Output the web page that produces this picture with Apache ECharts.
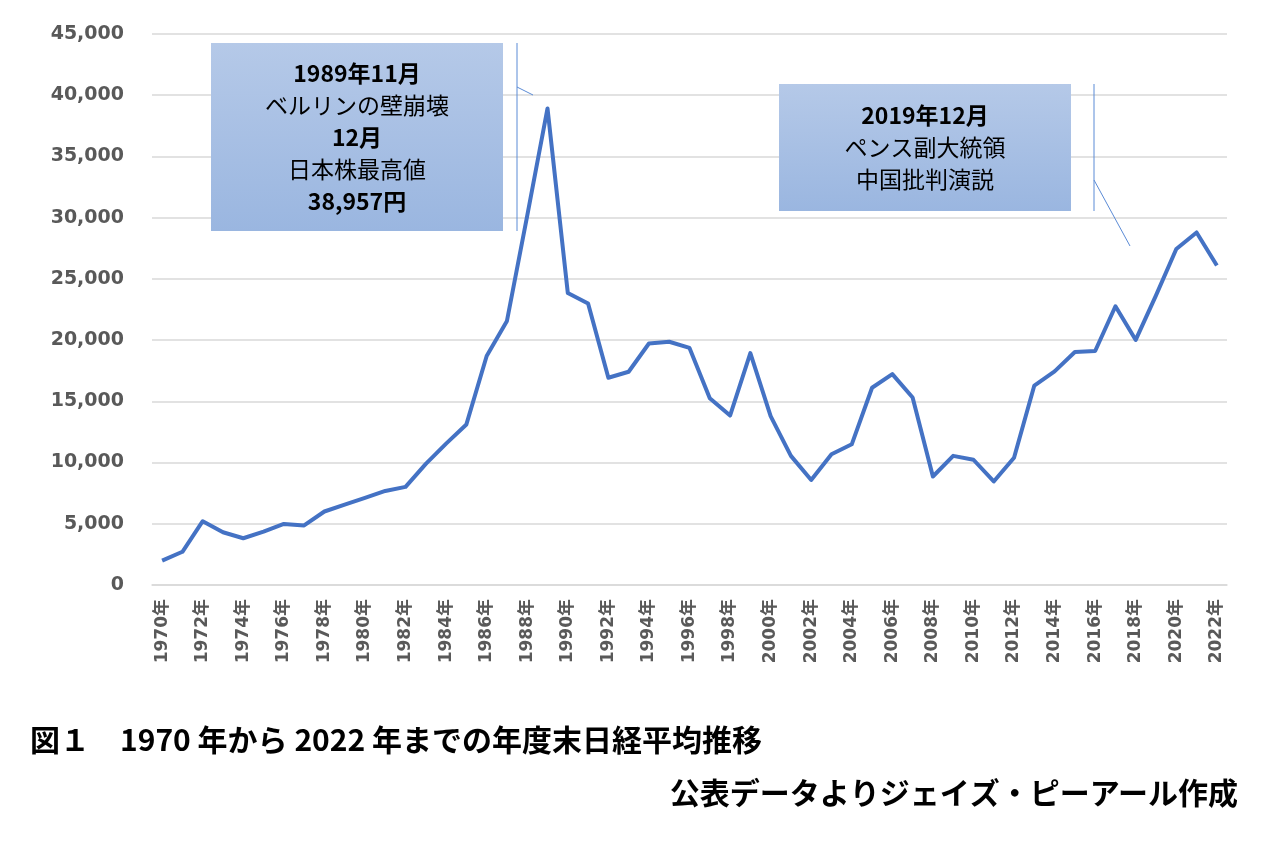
<!DOCTYPE html>
<html>
<head>
<meta charset="utf-8">
<script src="https://cdn.jsdelivr.net/npm/echarts@6/dist/echarts.min.js"></script>
<style>
  html, body { margin: 0; padding: 0; background: #ffffff; }
  #chart { width: 1280px; height: 861px; }
</style>
</head>
<body>
<div id="chart"></div>
<script>
// 年度末日経平均（円）
var years = [
    1970, 1971, 1972, 1973, 1974, 1975, 1976, 1977, 1978, 1979,
    1980, 1981, 1982, 1983, 1984, 1985, 1986, 1987, 1988, 1989,
    1990, 1991, 1992, 1993, 1994, 1995, 1996, 1997, 1998, 1999,
    2000, 2001, 2002, 2003, 2004, 2005, 2006, 2007, 2008, 2009,
    2010, 2011, 2012, 2013, 2014, 2015, 2016, 2017, 2018, 2019,
    2020, 2021, 2022
];
var closes = [
    1987, 2714, 5208, 4307, 3817, 4359, 4991, 4866, 6002, 6570,
    7116, 7682, 8017, 9894, 11543, 13113, 18701, 21564, 30159, 38916,
    23849, 22984, 16925, 17417, 19723, 19868, 19361, 15259, 13842, 18934,
    13786, 10543, 8579, 10677, 11489, 16111, 17226, 15308, 8860, 10546,
    10229, 8455, 10395, 16291, 17451, 19034, 19114, 22765, 20015, 23657,
    27444, 28792, 26095
];
var yTicks = { min: 0, max: 45000, step: 5000 };

var note1 = ['1989年11月', 'ベルリンの壁崩壊', '12月', '日本株最高値', '38,957円'];
var note2 = ['2019年12月', 'ペンス副大統領', '中国批判演説'];
var note1Bold = [true, false, true, false, true];
var note2Bold = [true, false, false];

var titleText = '図１　1970 年から 2022 年までの年度末日経平均推移';
var sourceText = '公表データよりジェイズ・ピーアール作成';

var JP = '"Noto Sans CJK JP", "Noto Sans", sans-serif';

function richLines(lines, bold) {
    return lines.map(function(s, i) {
        return '{' + (bold[i] ? 'b' : 'r') + '|' + s + '}';
    }).join('\n');
}

var noteRich = {
    b: { fontFamily: JP, fontWeight: 'bold', fontSize: 23, color: '#000000', lineHeight: 32 },
    r: { fontFamily: JP, fontWeight: 'normal', fontSize: 23, color: '#000000', lineHeight: 32 }
};

var boxFill = new echarts.graphic.LinearGradient(0, 0, 0, 1, [
    { offset: 0, color: '#b5c9e8' },
    { offset: 1, color: '#9ab6e0' }
]);

function noteBox(x, y, w, h, lines, bold) {
    return {
        type: 'group',
        children: [
            { type: 'rect', shape: { x: x, y: y, width: w, height: h },
              style: { fill: boxFill, stroke: null }, z: 10 },
            { type: 'text', x: x + w / 2, y: y + h / 2, z: 11,
              style: {
                  text: richLines(lines, bold),
                  rich: noteRich,
                  align: 'center',
                  verticalAlign: 'middle'
              } }
        ]
    };
}

function thinLine(x1, y1, x2, y2) {
    return { type: 'line', z: 10,
             shape: { x1: x1, y1: y1, x2: x2, y2: y2 },
             style: { stroke: '#5b8bd6', lineWidth: 1 } };
}

var chart = echarts.init(document.getElementById('chart'));

var option = {
    backgroundColor: '#ffffff',
    animation: false,
    grid: { left: 152, right: 53, top: 34, bottom: 276, containLabel: false },
    xAxis: {
        type: 'category',
        data: years,
        boundaryGap: true,
        axisLine: { show: true, lineStyle: { color: '#d9d9d9', width: 1.5 } },
        axisTick: { show: false },
        axisLabel: {
            interval: 1,
            rotate: 90,
            margin: 14,
            color: '#595959',
            fontSize: 17,
            fontWeight: 'bold',
            fontFamily: '"DejaVu Sans", ' + JP,
            formatter: function(v) { return v + '年'; }
        }
    },
    yAxis: {
        type: 'value',
        min: yTicks.min,
        max: yTicks.max,
        interval: yTicks.step,
        axisLine: { show: false },
        axisTick: { show: false },
        axisLabel: {
            margin: 28,
            color: '#595959',
            fontSize: 19,
            fontWeight: 'bold',
            fontFamily: '"DejaVu Sans", sans-serif',
            formatter: function(v) { return v.toLocaleString('en-US'); }
        },
        splitLine: { lineStyle: { color: '#d9d9d9', width: 1.5 } }
    },
    series: [{
        type: 'line',
        data: closes,
        showSymbol: false,
        symbol: 'none',
        lineStyle: { color: '#4472c4', width: 4, join: 'round' },
        z: 5
    }],
    graphic: [
        noteBox(211, 43, 292, 188, note1, note1Bold),
        thinLine(517, 43, 517, 231),
        thinLine(517, 87, 533, 95),
        noteBox(779, 84, 292, 127, note2, note2Bold),
        thinLine(1094, 84, 1094, 211),
        thinLine(1094, 180, 1130, 246),
        { type: 'text', left: 30, top: 725,
          style: { text: titleText, fontFamily: JP, fontWeight: 'bold', fontSize: 30, fill: '#000000' } },
        { type: 'text', right: 42, top: 778,
          style: { text: sourceText, fontFamily: JP, fontWeight: 'bold', fontSize: 30, fill: '#000000' } }
    ]
};

chart.setOption(option);
</script>
</body>
</html>
